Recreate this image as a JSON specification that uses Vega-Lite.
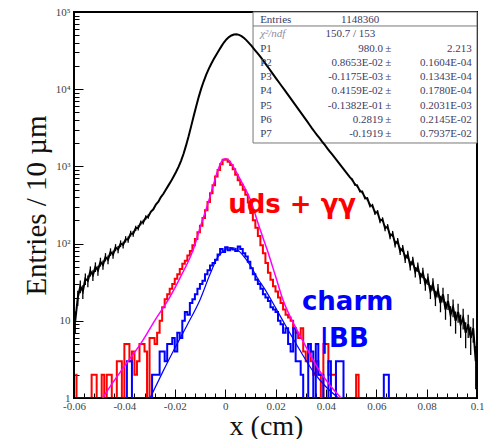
{
  "$schema": "https://vega.github.io/schema/vega-lite/v6.json",
  "width": 403,
  "height": 386,
  "autosize": "none",
  "padding": {"left": 74, "top": 12, "right": 7, "bottom": 41},
  "background": "white",
  "config": {
    "view": {"stroke": "#000", "strokeWidth": 2},
    "axis": {
      "domain": false, "grid": false,
      "labelFont": "Liberation Serif", "labelFontSize": 11, "labelColor": "#444",
      "tickColor": "#000", "tickWidth": 1,
      "titleFont": "Liberation Serif", "titleFontWeight": "normal", "titleColor": "#111"
    }
  },
  "datasets": {
    "total": [
      {"x":-0.0595,"n":10,"lo":6.8,"hi":13.2},{"x":-0.0585,"n":20,"lo":15.5,"hi":24.5},{"x":-0.0575,"n":28,"lo":22.7,"hi":33.3},
      {"x":-0.0565,"n":24,"lo":19.1,"hi":28.9},{"x":-0.0555,"n":35,"lo":29.1,"hi":40.9},{"x":-0.0545,"n":33,"lo":27.3,"hi":38.7},
      {"x":-0.0535,"n":44,"lo":37.4,"hi":50.6},{"x":-0.0525,"n":39,"lo":32.8,"hi":45.2},{"x":-0.0515,"n":50,"lo":42.9,"hi":57.1},
      {"x":-0.0505,"n":45,"lo":38.3,"hi":51.7},{"x":-0.0495,"n":58,"lo":50.4,"hi":65.6},{"x":-0.0485,"n":53,"lo":45.7,"hi":60.3},
      {"x":-0.0475,"n":67,"lo":58.8,"hi":75.2},{"x":-0.0465,"n":62,"lo":54.1,"hi":69.9},{"x":-0.0455,"n":78,"lo":69.2,"hi":86.8},
      {"x":-0.0445,"n":72,"lo":63.5,"hi":80.5},{"x":-0.0435,"n":89,"lo":79.6,"hi":98.4},{"x":-0.0425,"n":84,"lo":74.8,"hi":93.2},
      {"x":-0.0415,"n":100,"lo":90,"hi":110},{"x":-0.0405,"n":96,"lo":86.2,"hi":105.8},{"x":-0.0395,"n":114,"lo":103.3,"hi":124.7},
      {"x":-0.0385,"n":113,"lo":102.4,"hi":123.6},{"x":-0.0375,"n":135,"lo":123.4,"hi":146.6},{"x":-0.0365,"n":134,"lo":122.4,"hi":145.6},
      {"x":-0.0355,"n":158,"lo":145.4,"hi":170.6},{"x":-0.0345,"n":160,"lo":147.4,"hi":172.6},{"x":-0.0335,"n":186,"lo":172.4,"hi":199.6},
      {"x":-0.0325,"n":190,"lo":176.2,"hi":203.8},{"x":-0.0315,"n":218,"lo":203.2,"hi":232.8},{"x":-0.0305,"n":225,"lo":210,"hi":240},
      {"x":-0.0295,"n":258},{"x":-0.0285,"n":278},{"x":-0.0275,"n":320},{"x":-0.0265,"n":348},{"x":-0.0255,"n":400},
      {"x":-0.0245,"n":442},{"x":-0.0235,"n":502},{"x":-0.0225,"n":568},{"x":-0.0215,"n":640},{"x":-0.0205,"n":735},
      {"x":-0.0195,"n":845},{"x":-0.0185,"n":985},{"x":-0.0175,"n":1180},{"x":-0.0165,"n":1460},{"x":-0.0155,"n":1870},
      {"x":-0.0145,"n":2450},{"x":-0.0135,"n":3300},{"x":-0.0125,"n":4450},{"x":-0.0115,"n":5950},{"x":-0.0105,"n":7900},
      {"x":-0.0095,"n":10170},{"x":-0.0085,"n":12660},{"x":-0.0075,"n":15400},{"x":-0.0065,"n":18300},{"x":-0.0055,"n":21380},
      {"x":-0.0045,"n":24550},{"x":-0.0035,"n":28030},{"x":-0.0025,"n":31800},{"x":-0.0015,"n":35890},{"x":-0.0005,"n":40270},
      {"x":0.0005,"n":44160},{"x":0.0015,"n":47320},{"x":0.0025,"n":49660},{"x":0.0035,"n":51170},{"x":0.0045,"n":51400},
      {"x":0.0055,"n":50580},{"x":0.0065,"n":48700},{"x":0.0075,"n":45970},{"x":0.0085,"n":42900},{"x":0.0095,"n":39580},
      {"x":0.0105,"n":36310},{"x":0.0115,"n":33110},{"x":0.0125,"n":30200},{"x":0.0135,"n":27540},{"x":0.0145,"n":25000},
      {"x":0.0155,"n":22600},{"x":0.0165,"n":20370},{"x":0.0175,"n":18410},{"x":0.0185,"n":16520},{"x":0.0195,"n":14890},
      {"x":0.0205,"n":13430},{"x":0.0215,"n":12110},{"x":0.0225,"n":10920},{"x":0.0235,"n":9860},{"x":0.0245,"n":8890},
      {"x":0.0255,"n":8020},{"x":0.0265,"n":7210},{"x":0.0275,"n":6500},{"x":0.0285,"n":5860},{"x":0.0295,"n":5280},
      {"x":0.0305,"n":4750},{"x":0.0315,"n":4280},{"x":0.0325,"n":3850},{"x":0.0335,"n":3460},{"x":0.0345,"n":3110},
      {"x":0.0355,"n":2810},{"x":0.0365,"n":2550},{"x":0.0375,"n":2320},{"x":0.0385,"n":2100},{"x":0.0395,"n":1910},
      {"x":0.0405,"n":1730},{"x":0.0415,"n":1570},{"x":0.0425,"n":1430},{"x":0.0435,"n":1300},{"x":0.0445,"n":1180},
      {"x":0.0455,"n":1070},{"x":0.0465,"n":970},{"x":0.0475,"n":880},{"x":0.0485,"n":800},{"x":0.0495,"n":726},
      {"x":0.0505,"n":670,"lo":644,"hi":696},{"x":0.0515,"n":585,"lo":561,"hi":609},{"x":0.0525,"n":560,"lo":536,"hi":584},
      {"x":0.0535,"n":480,"lo":458,"hi":502},{"x":0.0545,"n":465,"lo":443,"hi":487},{"x":0.0555,"n":392,"lo":372,"hi":412},
      {"x":0.0565,"n":380,"lo":360,"hi":400},{"x":0.0575,"n":312,"lo":294,"hi":330},{"x":0.0585,"n":310,"lo":292,"hi":328},
      {"x":0.0595,"n":250,"lo":234,"hi":266},{"x":0.0605,"n":256,"lo":240,"hi":272},{"x":0.0615,"n":198,"lo":184,"hi":212},
      {"x":0.0625,"n":205,"lo":191,"hi":219},{"x":0.0635,"n":158,"lo":145,"hi":171},{"x":0.0645,"n":166,"lo":153,"hi":179},
      {"x":0.0655,"n":125,"lo":114,"hi":136},{"x":0.0665,"n":134,"lo":122,"hi":146},{"x":0.0675,"n":99,"lo":89,"hi":109},
      {"x":0.0685,"n":108,"lo":98,"hi":118},{"x":0.0695,"n":80,"lo":71,"hi":89},{"x":0.0705,"n":87,"lo":78,"hi":96},
      {"x":0.0715,"n":64,"lo":56,"hi":72},{"x":0.0725,"n":72,"lo":63.5,"hi":80.5},{"x":0.0735,"n":52,"lo":44.8,"hi":59.2},
      {"x":0.0745,"n":60,"lo":52.3,"hi":67.7},{"x":0.0755,"n":43,"lo":36.4,"hi":49.6},{"x":0.0765,"n":50,"lo":42.9,"hi":57.1},
      {"x":0.0775,"n":36,"lo":30,"hi":42},{"x":0.0785,"n":42,"lo":35.5,"hi":48.5},{"x":0.0795,"n":30,"lo":24.5,"hi":35.5},
      {"x":0.0805,"n":35,"lo":29.1,"hi":40.9},{"x":0.0815,"n":24,"lo":19.1,"hi":28.9},{"x":0.0825,"n":30,"lo":24.5,"hi":35.5},
      {"x":0.0835,"n":20,"lo":15.5,"hi":24.5},{"x":0.0845,"n":25,"lo":20,"hi":30},{"x":0.0855,"n":17,"lo":12.9,"hi":21.1},
      {"x":0.0865,"n":22,"lo":17.3,"hi":26.7},{"x":0.0875,"n":14,"lo":10.3,"hi":17.7},{"x":0.0885,"n":18,"lo":13.8,"hi":22.2},
      {"x":0.0895,"n":12,"lo":8.5,"hi":15.5},{"x":0.0905,"n":15,"lo":11.1,"hi":18.9},{"x":0.0915,"n":10,"lo":6.8,"hi":13.2},
      {"x":0.0925,"n":13,"lo":9.4,"hi":16.6},{"x":0.0935,"n":9,"lo":6,"hi":12},{"x":0.0945,"n":11,"lo":7.7,"hi":14.3},
      {"x":0.0955,"n":7,"lo":4.4,"hi":9.6},{"x":0.0965,"n":9,"lo":6,"hi":12},{"x":0.0975,"n":6,"lo":3.6,"hi":8.4},
      {"x":0.0985,"n":8,"lo":5.2,"hi":10.8},{"x":0.0995,"n":3,"lo":1.3,"hi":4.7}
    ],
    "uds": [
      {"x":-0.0595,"n":2},{"x":-0.0585,"n":1},{"x":-0.0535,"n":1},{"x":-0.0525,"n":2},{"x":-0.0515,"n":2},{"x":-0.0505,"n":1},
      {"x":-0.0495,"n":1},{"x":-0.0485,"n":2},{"x":-0.0475,"n":1},{"x":-0.0465,"n":2},{"x":-0.0455,"n":2},{"x":-0.0445,"n":1},
      {"x":-0.0435,"n":1},{"x":-0.0425,"n":3},{"x":-0.0415,"n":3},{"x":-0.0405,"n":1},{"x":-0.0395,"n":5},{"x":-0.0385,"n":5},
      {"x":-0.0375,"n":3},{"x":-0.0365,"n":4},{"x":-0.0355,"n":2},{"x":-0.0345,"n":3},{"x":-0.0335,"n":5},{"x":-0.0325,"n":5},
      {"x":-0.0315,"n":4},{"x":-0.0305,"n":1},{"x":-0.0295,"n":6},{"x":-0.0285,"n":6},{"x":-0.0275,"n":5},{"x":-0.0265,"n":7},
      {"x":-0.0255,"n":10},{"x":-0.0245,"n":15},{"x":-0.0235,"n":19},{"x":-0.0225,"n":22},{"x":-0.0215,"n":26},{"x":-0.0205,"n":30},
      {"x":-0.0195,"n":35},{"x":-0.0185,"n":40},{"x":-0.0175,"n":47},{"x":-0.0165,"n":55},{"x":-0.0155,"n":60},{"x":-0.0145,"n":70},
      {"x":-0.0135,"n":80},{"x":-0.0125,"n":95},{"x":-0.0115,"n":115},{"x":-0.0105,"n":140},{"x":-0.0095,"n":170},{"x":-0.0085,"n":215},
      {"x":-0.0075,"n":270},{"x":-0.0065,"n":345},{"x":-0.0055,"n":450},{"x":-0.0045,"n":570},{"x":-0.0035,"n":740},{"x":-0.0025,"n":900},
      {"x":-0.0015,"n":1070},{"x":-0.0005,"n":1220},{"x":0.0005,"n":1230},{"x":0.0015,"n":1150},{"x":0.0025,"n":1040},{"x":0.0035,"n":920},
      {"x":0.0045,"n":780},{"x":0.0055,"n":660},{"x":0.0065,"n":580},{"x":0.0075,"n":500},{"x":0.0085,"n":430},{"x":0.0095,"n":340},
      {"x":0.0105,"n":250},{"x":0.0115,"n":200},{"x":0.0125,"n":160},{"x":0.0135,"n":125},{"x":0.0145,"n":95},{"x":0.0155,"n":75},
      {"x":0.0165,"n":56},{"x":0.0175,"n":42},{"x":0.0185,"n":34},{"x":0.0195,"n":28},{"x":0.0205,"n":24},{"x":0.0215,"n":20},
      {"x":0.0225,"n":17},{"x":0.0235,"n":14},{"x":0.0245,"n":12},{"x":0.0255,"n":11},{"x":0.0265,"n":10},{"x":0.0275,"n":8},
      {"x":0.0285,"n":7},{"x":0.0295,"n":6},{"x":0.0305,"n":8},{"x":0.0315,"n":4},{"x":0.0325,"n":3},{"x":0.0335,"n":5},
      {"x":0.0345,"n":3},{"x":0.0355,"n":2},{"x":0.0365,"n":3},{"x":0.0375,"n":2},{"x":0.0385,"n":1},{"x":0.0395,"n":5},
      {"x":0.0405,"n":5},{"x":0.0415,"n":2},{"x":0.0425,"n":2},{"x":0.0435,"n":2},{"x":0.0445,"n":1},{"x":0.0515,"n":1},
      {"x":0.0525,"n":2},{"x":0.0535,"n":1},{"x":0.0995,"n":1}
    ],
    "charm": [
      {"x":-0.0595,"n":1},{"x":-0.0395,"n":1},{"x":-0.0385,"n":3},{"x":-0.0375,"n":3},{"x":-0.0365,"n":1},{"x":-0.0295,"n":1},
      {"x":-0.0285,"n":2},{"x":-0.0275,"n":2},{"x":-0.0265,"n":2},{"x":-0.0255,"n":4},{"x":-0.0245,"n":4},{"x":-0.0235,"n":3},
      {"x":-0.0225,"n":5},{"x":-0.0215,"n":5},{"x":-0.0205,"n":6},{"x":-0.0195,"n":4},{"x":-0.0185,"n":7},{"x":-0.0175,"n":6},
      {"x":-0.0165,"n":10},{"x":-0.0155,"n":13},{"x":-0.0145,"n":12},{"x":-0.0135,"n":17},{"x":-0.0125,"n":19},{"x":-0.0115,"n":22},
      {"x":-0.0105,"n":26},{"x":-0.0095,"n":30},{"x":-0.0085,"n":33},{"x":-0.0075,"n":40},{"x":-0.0065,"n":45},{"x":-0.0055,"n":52},
      {"x":-0.0045,"n":56},{"x":-0.0035,"n":62},{"x":-0.0025,"n":72},{"x":-0.0015,"n":85},{"x":-0.0005,"n":78},{"x":0.0005,"n":90},
      {"x":0.0015,"n":82},{"x":0.0025,"n":86},{"x":0.0035,"n":84},{"x":0.0045,"n":80},{"x":0.0055,"n":92},{"x":0.0065,"n":85},
      {"x":0.0075,"n":75},{"x":0.0085,"n":68},{"x":0.0095,"n":58},{"x":0.0105,"n":48},{"x":0.0115,"n":40},{"x":0.0125,"n":34},
      {"x":0.0135,"n":30},{"x":0.0145,"n":26},{"x":0.0155,"n":22},{"x":0.0165,"n":20},{"x":0.0175,"n":18},{"x":0.0185,"n":15},
      {"x":0.0195,"n":14},{"x":0.0205,"n":13},{"x":0.0215,"n":10},{"x":0.0225,"n":9},{"x":0.0235,"n":7},{"x":0.0245,"n":8},
      {"x":0.0255,"n":5},{"x":0.0265,"n":4},{"x":0.0275,"n":8},{"x":0.0285,"n":3},{"x":0.0295,"n":3},{"x":0.0305,"n":2},
      {"x":0.0315,"n":1},{"x":0.0325,"n":1},{"x":0.0335,"n":5},{"x":0.0345,"n":4},{"x":0.0355,"n":1},{"x":0.0365,"n":5},
      {"x":0.0375,"n":2},{"x":0.0385,"n":2},{"x":0.0395,"n":1},{"x":0.0405,"n":1},{"x":0.0415,"n":3},{"x":0.0425,"n":1},
      {"x":0.0435,"n":1},{"x":0.0445,"n":3},{"x":0.0455,"n":3},{"x":0.0465,"n":3},{"x":0.0475,"n":1},{"x":0.0625,"n":1},
      {"x":0.0635,"n":2},{"x":0.0645,"n":2},{"x":0.0655,"n":1},{"x":0.0995,"n":1}
    ],
    "udsFit": [
      {"x":-0.0486,"n":1},{"x":-0.045,"n":1.51},{"x":-0.04,"n":2.57},{"x":-0.0326,"n":5.62},{"x":-0.028,"n":10},
      {"x":-0.0219,"n":20.4},{"x":-0.018,"n":35.5},{"x":-0.0127,"n":83},{"x":-0.01,"n":158},{"x":-0.0072,"n":302},
      {"x":-0.005,"n":525},{"x":-0.0032,"n":832},{"x":-0.0015,"n":1148},{"x":0,"n":1259},{"x":0.0015,"n":1202},
      {"x":0.003,"n":1023},{"x":0.0055,"n":724},{"x":0.008,"n":513},{"x":0.01,"n":372},{"x":0.0135,"n":166},
      {"x":0.0167,"n":83},{"x":0.02,"n":38},{"x":0.023,"n":18.6},{"x":0.0265,"n":10.2},{"x":0.03,"n":6.2},
      {"x":0.0366,"n":2.5},{"x":0.041,"n":1.55},{"x":0.046,"n":1}
    ],
    "charmFit": [
      {"x":-0.0298,"n":1},{"x":-0.025,"n":2.1},{"x":-0.02,"n":4.4},{"x":-0.015,"n":8.9},{"x":-0.01,"n":18.6},
      {"x":-0.006,"n":40},{"x":-0.003,"n":66},{"x":0,"n":83},{"x":0.002,"n":89},{"x":0.004,"n":87},{"x":0.007,"n":71},
      {"x":0.01,"n":52},{"x":0.013,"n":35},{"x":0.016,"n":25},{"x":0.02,"n":14.8},{"x":0.025,"n":7.6},{"x":0.03,"n":4},
      {"x":0.035,"n":2.2},{"x":0.04,"n":1.4},{"x":0.045,"n":1}
    ],
    "statsPars": [
      {
        "names": ["P1","P2","P3","P4","P5","P6","P7"],
        "vals": ["980.0","0.8653E-02","-0.1175E-03","0.4159E-02","-0.1382E-01","0.2819","-0.1919"],
        "pm": ["±","±","±","±","±","±","±"],
        "errs": ["2.213","0.1604E-04","0.1343E-04","0.1780E-04","0.2031E-03","0.2145E-02","0.7937E-02"]
      }
    ]
  },
  "resolve": {"axis": {"x": "independent", "y": "independent"}},
  "layer": [
    {
      "data": {"values": [{}]},
      "mark": {"type": "rect", "fill": "white", "stroke": "#777", "strokeWidth": 1},
      "encoding": {
        "x": {"datum": 0.01108, "axis": null, "scale": {"domain": [-0.06, 0.1], "nice": false, "zero": false}},
        "x2": {"datum": 0.1},
        "y": {"datum": 100000, "axis": null, "scale": {"type": "log", "domain": [1, 100000], "nice": false}},
        "y2": {"datum": 2010}
      }
    },
    {
      "data": {"values": [{}]},
      "mark": {"type": "rule", "stroke": "#777", "strokeWidth": 1},
      "encoding": {
        "x": {"datum": 0.01108, "axis": null},
        "x2": {"datum": 0.1},
        "y": {"datum": 65900, "axis": null}
      }
    },
    {
      "data": {"name": "total"},
      "transform": [{"filter": "isValid(datum.lo)"}],
      "mark": {"type": "rule", "color": "#000", "strokeWidth": 1.3, "clip": true},
      "encoding": {
        "x": {"field": "x", "type": "quantitative", "axis": null},
        "y": {"field": "lo", "type": "quantitative", "axis": null},
        "y2": {"field": "hi"}
      }
    },
    {
      "data": {"name": "total"},
      "mark": {"type": "line", "color": "#000", "strokeWidth": 2, "clip": true},
      "encoding": {
        "x": {
          "field": "x", "type": "quantitative",
          "axis": {
            "orient": "bottom", "ticks": false,
            "title": "x (cm)", "titleFontSize": 28, "titleX": 192, "titleY": 36,
            "titleBaseline": "alphabetic", "titleAlign": "center",
            "values": [-0.06,-0.04,-0.02,0,0.02,0.04,0.06,0.08,0.1],
            "labelExpr": "toString(datum.value)",
            "labelPadding": 2, "labelFlush": false, "labelOverlap": false
          }
        },
        "y": {
          "field": "n", "type": "quantitative",
          "axis": {
            "orient": "left", "ticks": false,
            "title": "Entries / 10 µm", "titleFontSize": 29, "titleX": -38, "titleY": 193,
            "titleBaseline": "middle", "titleAlign": "center", "titleAngle": -90,
            "values": [1,10,100,1000,10000,100000],
            "labelExpr": "datum.value == 1 ? '1' : datum.value == 10 ? '10' : datum.value == 100 ? '10²' : datum.value == 1000 ? '10³' : datum.value == 10000 ? '10⁴' : '10⁵'",
            "labelPadding": 4, "labelFlush": false, "labelOverlap": false
          }
        }
      }
    },
    {
      "data": {"name": "uds"},
      "mark": {"type": "line", "interpolate": "step", "color": "#ff0000", "strokeWidth": 2, "clip": true},
      "encoding": {
        "x": {
          "field": "x", "type": "quantitative",
          "axis": {"orient": "bottom", "title": null, "labels": false, "tickSize": -9,
                   "values": [-0.06,-0.04,-0.02,0,0.02,0.04,0.06,0.08,0.1]}
        },
        "y": {
          "field": "n", "type": "quantitative",
          "axis": {"orient": "left", "title": null, "labels": false, "tickSize": -9,
                   "values": [1,10,100,1000,10000,100000]}
        }
      }
    },
    {
      "data": {"name": "charm"},
      "mark": {"type": "line", "interpolate": "step", "color": "#0000ff", "strokeWidth": 2, "clip": true},
      "encoding": {
        "x": {
          "field": "x", "type": "quantitative",
          "axis": {"orient": "bottom", "title": null, "labels": false, "tickSize": -5,
                   "values": [-0.056,-0.052,-0.048,-0.044,-0.036,-0.032,-0.028,-0.024,-0.016,-0.012,-0.008,-0.004,0.004,0.008,0.012,0.016,0.024,0.028,0.032,0.036,0.044,0.048,0.052,0.056,0.064,0.068,0.072,0.076,0.084,0.088,0.092,0.096]}
        },
        "y": {
          "field": "n", "type": "quantitative",
          "axis": {"orient": "left", "title": null, "labels": false, "tickSize": -5,
                   "values": [2,3,4,5,6,7,8,9,20,30,40,50,60,70,80,90,200,300,400,500,600,700,800,900,2000,3000,4000,5000,6000,7000,8000,9000,20000,30000,40000,50000,60000,70000,80000,90000]}
        }
      }
    },
    {
      "data": {"name": "udsFit"},
      "mark": {"type": "line", "interpolate": "monotone", "color": "#ff00ff", "strokeWidth": 1.5, "clip": true},
      "encoding": {
        "x": {"field": "x", "type": "quantitative", "axis": null},
        "y": {"field": "n", "type": "quantitative", "axis": null}
      }
    },
    {
      "data": {"name": "charmFit"},
      "mark": {"type": "line", "interpolate": "monotone", "color": "#0000ff", "strokeWidth": 1.2, "clip": true},
      "encoding": {
        "x": {"field": "x", "type": "quantitative", "axis": null},
        "y": {"field": "n", "type": "quantitative", "axis": null}
      }
    },
    {
      "data": {"values": [{"label": "uds + γγ"}]},
      "mark": {"type": "text", "font": "DejaVu Sans", "fontWeight": "bold", "fontSize": 26, "color": "#ff0000", "align": "left", "baseline": "alphabetic"},
      "encoding": {"x": {"datum": 0.0012, "axis": null}, "y": {"datum": 249, "axis": null}, "text": {"field": "label", "type": "nominal"}}
    },
    {
      "data": {"values": [{"label": "charm"}]},
      "mark": {"type": "text", "font": "DejaVu Sans", "fontWeight": "bold", "fontSize": 26, "color": "#0000ff", "align": "left", "baseline": "alphabetic"},
      "encoding": {"x": {"datum": 0.0305, "axis": null}, "y": {"datum": 13.8, "axis": null}, "text": {"field": "label", "type": "nominal"}}
    },
    {
      "data": {"values": [{"label": "|BB"}]},
      "mark": {"type": "text", "font": "DejaVu Sans", "fontWeight": "bold", "fontSize": 26, "color": "#0000ff", "align": "left", "baseline": "alphabetic"},
      "encoding": {"x": {"datum": 0.0375, "axis": null}, "y": {"datum": 4.6, "axis": null}, "text": {"field": "label", "type": "nominal"}}
    },
    {
      "data": {"values": [{"label": "Entries", "value": "1148360"}]},
      "layer": [
        {
          "mark": {"type": "text", "font": "Liberation Serif", "fontSize": 11, "align": "left", "baseline": "alphabetic", "color": "#3c3c64"},
          "encoding": {"x": {"datum": 0.0139, "axis": null}, "y": {"datum": 72040, "axis": null}, "text": {"field": "label", "type": "nominal"}}
        },
        {
          "mark": {"type": "text", "font": "Liberation Serif", "fontSize": 11, "align": "center", "baseline": "alphabetic", "color": "#3c3c64"},
          "encoding": {"x": {"datum": 0.0536, "axis": null}, "y": {"datum": 72040, "axis": null}, "text": {"field": "value", "type": "nominal"}}
        }
      ]
    },
    {
      "data": {"values": [{"label": "χ²/ndf", "value": "150.7  /  153"}]},
      "layer": [
        {
          "mark": {"type": "text", "font": "Liberation Serif", "fontSize": 11, "fontStyle": "italic", "align": "left", "baseline": "alphabetic", "color": "#8e8ea6"},
          "encoding": {"x": {"datum": 0.0139, "axis": null}, "y": {"datum": 47450, "axis": null}, "text": {"field": "label", "type": "nominal"}}
        },
        {
          "mark": {"type": "text", "font": "Liberation Serif", "fontSize": 11, "align": "center", "baseline": "alphabetic", "color": "#3c3c64"},
          "encoding": {"x": {"datum": 0.0497, "axis": null}, "y": {"datum": 47450, "axis": null}, "text": {"field": "value", "type": "nominal"}}
        }
      ]
    },
    {
      "data": {"name": "statsPars"},
      "layer": [
        {
          "mark": {"type": "text", "font": "Liberation Serif", "fontSize": 11, "lineHeight": 14.3, "align": "left", "baseline": "alphabetic", "color": "#3c3c64"},
          "encoding": {"x": {"datum": 0.0139, "axis": null}, "y": {"datum": 30780, "axis": null}, "text": {"field": "names", "type": "nominal"}}
        },
        {
          "mark": {"type": "text", "font": "Liberation Serif", "fontSize": 11, "lineHeight": 14.3, "align": "right", "baseline": "alphabetic", "color": "#3c3c64"},
          "encoding": {"x": {"datum": 0.0627, "axis": null}, "y": {"datum": 30780, "axis": null}, "text": {"field": "vals", "type": "nominal"}}
        },
        {
          "mark": {"type": "text", "font": "Liberation Serif", "fontSize": 11, "lineHeight": 14.3, "align": "center", "baseline": "alphabetic", "color": "#3c3c64"},
          "encoding": {"x": {"datum": 0.0648, "axis": null}, "y": {"datum": 30780, "axis": null}, "text": {"field": "pm", "type": "nominal"}}
        },
        {
          "mark": {"type": "text", "font": "Liberation Serif", "fontSize": 11, "lineHeight": 14.3, "align": "right", "baseline": "alphabetic", "color": "#3c3c64"},
          "encoding": {"x": {"datum": 0.0979, "axis": null}, "y": {"datum": 30780, "axis": null}, "text": {"field": "errs", "type": "nominal"}}
        }
      ]
    }
  ]
}
